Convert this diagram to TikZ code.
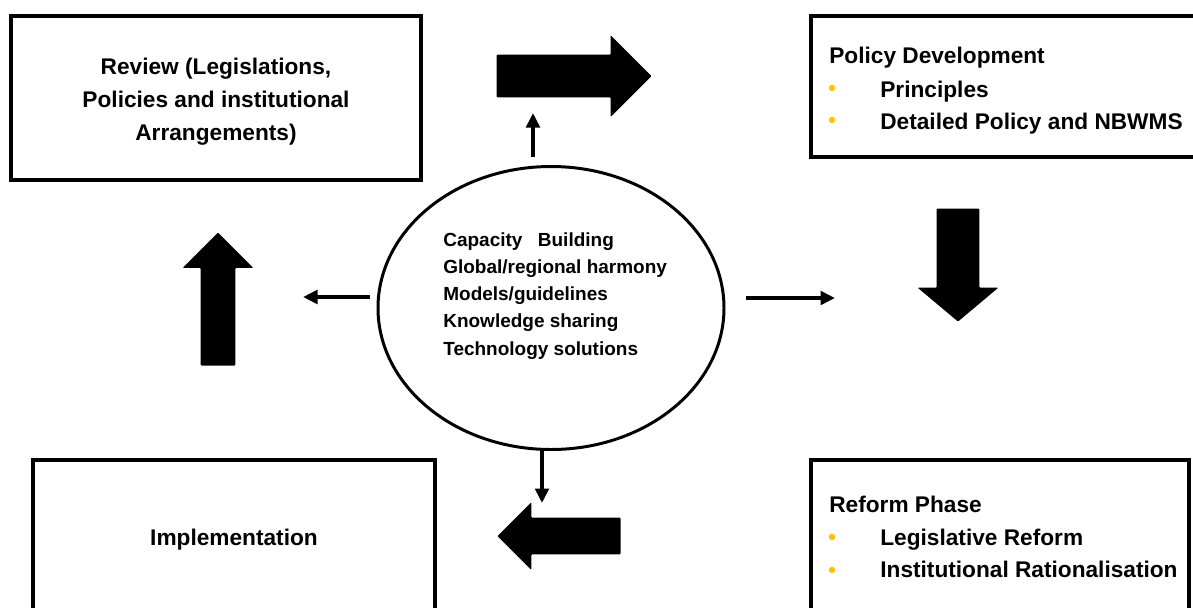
\documentclass[tikz,border=0pt]{standalone}
\usepackage{fontspec}
\setmainfont{Liberation Sans}
\usetikzlibrary{shapes.geometric}
\usetikzlibrary{shapes.arrows}
\usetikzlibrary{arrows.meta}
\pgfdeclarelayer{edgelayer}
\pgfdeclarelayer{nodelayer}
\pgfsetlayers{edgelayer,nodelayer,main}
\definecolor{bulletyellow}{RGB}{255,192,0}
\tikzstyle{none}=[inner sep=0pt]
\tikzstyle{stage}=[rectangle,draw=black,line width=2pt,inner sep=0pt]
\tikzstyle{hub}=[ellipse,draw=black,line width=1.7pt,inner sep=0pt]
\tikzstyle{label}=[inner sep=0pt,font=\bfseries\fontsize{12.9}{15}\selectfont]
\tikzstyle{small label}=[inner sep=0pt,font=\bfseries\fontsize{10.8}{13}\selectfont]
\tikzstyle{bullet}=[circle,fill=bulletyellow,inner sep=0pt,minimum size=0.13cm]
\tikzstyle{block arrow}=[single arrow,fill=black,rounded corners=0.5pt,anchor=tip]
\tikzstyle{pointer}=[-{Triangle[length=0.29cm,width=0.27cm]},draw=black,line width=2.2pt]

\begin{document}
\begin{tikzpicture}
	\useasboundingbox (0, 0) rectangle (23.86, -12.14);
	\clip (0, 0) rectangle (23.86, -12.14);
	\begin{pgfonlayer}{nodelayer}
		\node [style=stage, minimum width=8.2cm, minimum height=3.28cm] (0) at (4.32, -1.96) {};
		\node [style=stage, minimum width=8.38cm, minimum height=2.82cm] (1) at (20.41, -1.73) {};
		\node [style=stage, minimum width=7.56cm, minimum height=3.6cm] (2) at (20, -11) {};
		\node [style=stage, minimum width=8.04cm, minimum height=3.6cm] (3) at (4.68, -11) {};
		\node [style=hub, minimum width=6.92cm, minimum height=5.66cm] (4) at (11.02, -6.16) {};
		\node [style=label, anchor=base] (5) at (4.32, -1.48) {Review (Legislations,};
		\node [style=label, anchor=base] (6) at (4.32, -2.14) {Policies and institutional};
		\node [style=label, anchor=base] (7) at (4.32, -2.8) {Arrangements)};
		\node [style=label, anchor=base west] (8) at (16.58, -1.26) {Policy Development};
		\node [style=bullet] (9) at (16.64, -1.76) {};
		\node [style=label, anchor=base west] (10) at (17.6, -1.94) {Principles};
		\node [style=bullet] (11) at (16.64, -2.4) {};
		\node [style=label, anchor=base west] (12) at (17.6, -2.58) {Detailed Policy and NBWMS};
		\node [style=label, anchor=base west] (13) at (16.58, -10.24) {Reform Phase};
		\node [style=bullet] (14) at (16.64, -10.74) {};
		\node [style=label, anchor=base west] (15) at (17.6, -10.9) {Legislative Reform};
		\node [style=bullet] (16) at (16.64, -11.4) {};
		\node [style=label, anchor=base west] (17) at (17.6, -11.54) {Institutional Rationalisation};
		\node [style=label, anchor=base] (18) at (4.68, -10.9) {Implementation};
		\node [style=small label, anchor=base west] (19) at (8.86, -4.93) {Capacity\hspace{0.31cm}Building};
		\node [style=small label, anchor=base west] (20) at (8.86, -5.47) {Global/regional harmony};
		\node [style=small label, anchor=base west] (21) at (8.86, -6) {Models/guidelines};
		\node [style=small label, anchor=base west] (22) at (8.86, -6.55) {Knowledge sharing};
		\node [style=small label, anchor=base west] (23) at (8.86, -7.1) {Technology solutions};
		\node [style=block arrow, inner sep=0.42cm, minimum height=3.1cm, single arrow head extend=0.39cm] (24) at (13.04, -1.52) {};
		\node [style=block arrow, inner sep=0.42cm, minimum height=2.26cm, single arrow head extend=0.38cm, single arrow tip angle=100, shape border rotate=270] (25) at (19.16, -6.44) {};
		\node [style=block arrow, inner sep=0.36cm, minimum height=2.46cm, single arrow head extend=0.31cm, shape border rotate=180] (26) at (9.94, -10.72) {};
		\node [style=block arrow, inner sep=0.34cm, minimum height=2.66cm, single arrow head extend=0.36cm, shape border rotate=90] (27) at (4.36, -4.64) {};
		\coordinate (28) at (10.66, -3.14);
		\coordinate (29) at (10.66, -2.26);
		\coordinate (30) at (7.4, -5.94);
		\coordinate (31) at (6.06, -5.94);
		\coordinate (32) at (14.92, -5.96);
		\coordinate (33) at (16.7, -5.96);
		\coordinate (34) at (10.84, -9);
		\coordinate (35) at (10.84, -10.06);
	\end{pgfonlayer}
	\begin{pgfonlayer}{edgelayer}
		\draw [style=pointer] (28) to (29);
		\draw [style=pointer] (30) to (31);
		\draw [style=pointer] (32) to (33);
		\draw [style=pointer] (34) to (35);
	\end{pgfonlayer}
\end{tikzpicture}
\end{document}
